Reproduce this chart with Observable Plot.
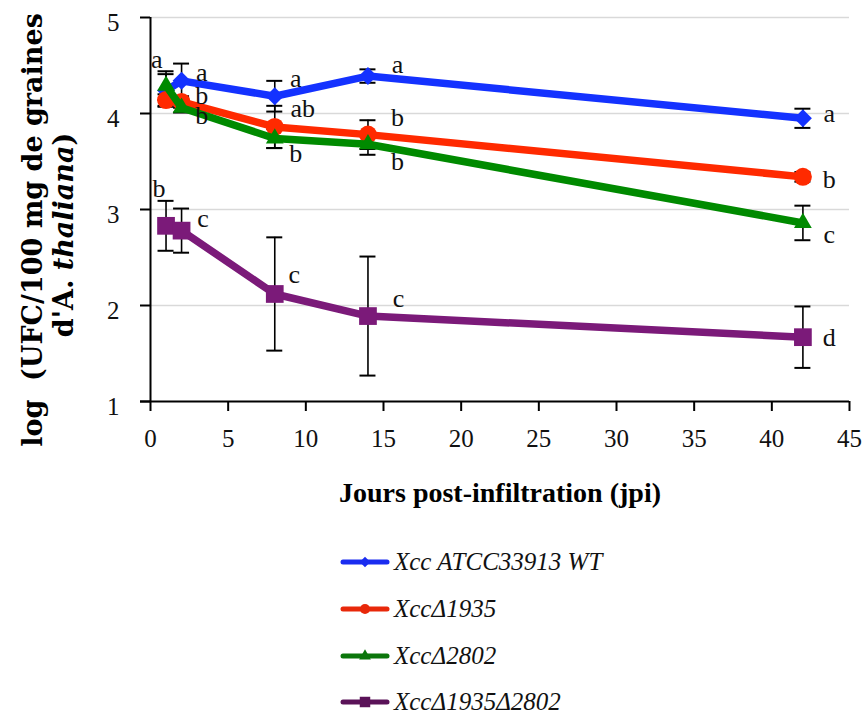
<!DOCTYPE html>
<html>
<head>
<meta charset="utf-8">
<script src="https://cdn.jsdelivr.net/npm/d3@7"></script>
<script src="https://cdn.jsdelivr.net/npm/@observablehq/plot@0.6"></script>
<style>
  html, body { margin: 0; padding: 0; background: #fff; }
  #wrap { position: relative; width: 867px; height: 718px; overflow: hidden; }
  #legend { position: absolute; left: 340px; top: 539px; font-family: "Liberation Serif", "Times New Roman", Tinos, "DejaVu Serif", serif; font-style: italic; font-size: 25px; color: #111; }
  .row { height: 46.7px; display: flex; align-items: center; }
  .row svg { display: block; margin-right: 4px; }
</style>
</head>
<body>
<div id="wrap"><div id="chart"></div><div id="legend"></div></div>
<script>
// ---- data ----
const days = [1, 2, 8, 14, 42];
const seriesNames = ["Xcc ATCC33913 WT", "XccΔ1935", "XccΔ2802", "XccΔ1935Δ2802"];
const wtMean    = [4.24, 4.34, 4.18, 4.39, 3.95];
const wtErr     = [0.17, 0.18, 0.16, 0.07, 0.10];
const d1935Mean = [4.14, 4.12, 3.86, 3.78, 3.34];
const d1935Err  = [0.06, 0.06, 0.22, 0.15, 0.05];
const d2802Mean = [4.29, 4.06, 3.74, 3.68, 2.86];
const d2802Err  = [0.15, 0.05, 0.10, 0.11, 0.18];
const dDoubleMean = [2.83, 2.78, 2.12, 1.89, 1.67];
const dDoubleErr  = [0.26, 0.23, 0.59, 0.62, 0.32];
const xTicks = [0, 5, 10, 15, 20, 25, 30, 35, 40, 45];
const yTicks = [1, 2, 3, 4, 5];
// significance letters (positions in data units)
const letterText = ["a","a","b","b","a","ab","b","a","b","b","a","b","c","d","b","c","c","c"];
const letterDay  = [0.4, 3.3, 3.3, 3.3, 9.35, 9.8, 9.35, 15.9, 15.9, 15.9, 43.7, 43.7, 43.7, 43.7, 0.55, 3.38, 9.25, 15.96];
const letterVal  = [4.56, 4.43, 4.185, 3.98, 4.36, 4.05, 3.58, 4.51, 3.96, 3.50, 3.995, 3.31, 2.735, 1.67, 3.215, 2.90, 2.32, 2.07];
const xTitle = "Jours post-infiltration (jpi)";

// ---- styling ----
const seriesColors = ["#1432ff", "#ff2a00", "#008a00", "#7b1a79"];
const legendColors = ["#1a2cf0", "#e8280a", "#0b760b", "#5a1258"];
const seriesSymbols = ["diamond2", "circle", "triangle", "square"];
const seriesR = [8.1, 9, 6.6, 10];

const means = [wtMean, d1935Mean, d2802Mean, dDoubleMean];
const errs = [wtErr, d1935Err, d2802Err, dDoubleErr];
const perSeries = seriesNames.map((name, i) => days.map((d, j) => ({series: name, day: d, value: means[i][j], err: errs[i][j]})));
const rows = perSeries.flat();
const letters = letterText.map((t, i) => ({text: t, day: letterDay[i], value: letterVal[i]}));

const serif = "'Liberation Serif', 'Times New Roman', Tinos, 'DejaVu Serif', serif";
const marks = [
  Plot.gridY([2, 3, 4, 5], {stroke: "#d9d9d9", strokeOpacity: 1, strokeWidth: 1.5}),
  Plot.ruleX(rows, {x: "day", y1: d => d.value - d.err, y2: d => d.value + d.err, stroke: "#000", strokeWidth: 1.6}),
  Plot.ruleY(rows, {y: d => d.value + d.err, x1: "day", x2: "day", insetLeft: -8, insetRight: -8, stroke: "#000", strokeWidth: 2}),
  Plot.ruleY(rows, {y: d => d.value - d.err, x1: "day", x2: "day", insetLeft: -8, insetRight: -8, stroke: "#000", strokeWidth: 2}),
];
perSeries.forEach((data, i) => {
  marks.push(Plot.line(data, {x: "day", y: "value", stroke: seriesColors[i], strokeWidth: 7.5, strokeLinejoin: "round", strokeLinecap: "round"}));
  marks.push(Plot.dot(data, {x: "day", y: "value", symbol: seriesSymbols[i], r: seriesR[i], fill: seriesColors[i], stroke: "none"}));
});
marks.push(
  Plot.ruleX([0], {stroke: "#000", strokeWidth: 2}),
  Plot.ruleY([1], {stroke: "#000", strokeWidth: 2, insetLeft: -10}),
  Plot.axisY({ticks: yTicks, tickSize: 10, fill: "none", strokeWidth: 2, label: null}),
  Plot.axisY({ticks: yTicks, tickFormat: "d", tickSize: 0, tickPadding: 31, stroke: "none", dy: 5, fontSize: 25, fontFamily: serif, fill: "#111", label: null}),
  Plot.axisX({ticks: xTicks, tickFormat: "d", tickSize: 10, tickPadding: 18, strokeWidth: 2, fontSize: 25, fontFamily: serif, fill: "#111", label: null}),
  Plot.text(letters, {x: "day", y: "value", text: "text", fontSize: 26, fontFamily: serif, fill: "#111"}),
  Plot.text([xTitle], {frameAnchor: "bottom", lineAnchor: "middle", dy: 92, fontSize: 28, fontWeight: "bold", fontFamily: serif, fill: "#000"})
);

const chart = Plot.plot({
  width: 867, height: 520,
  marginLeft: 150, marginRight: 18, marginTop: 17, marginBottom: 119,
  style: {fontFamily: serif, background: "white", overflow: "visible"},
  x: {domain: [0, 45]},
  y: {domain: [1, 5]},
  marks
});
document.getElementById("chart").appendChild(chart);

// y-axis title (two lines, mixed bold / italic)
const svg = d3.select(chart);
const yt = svg.append("g").attr("font-family", "'DejaVu Serif', serif").attr("font-weight", "bold").attr("font-size", 27).attr("fill", "#000").attr("text-anchor", "middle");
yt.append("text").attr("transform", "translate(33,230) rotate(-90)").attr("dy", "0.35em").style("white-space", "pre").text("log  (UFC/100 mg de graines");
const l2 = yt.append("text").attr("transform", "translate(64,235) rotate(-90)").attr("dy", "0.35em");
l2.append("tspan").text("d'A. ");
l2.append("tspan").attr("font-style", "italic").text("thaliana");
l2.append("tspan").text(")");

// legend
const legend = d3.select("#legend");
seriesNames.forEach((name, i) => {
  const row = legend.append("div").attr("class", "row");
  const s = row.append("svg").attr("width", 50).attr("height", 24);
  s.append("line").attr("x1", 3).attr("x2", 47).attr("y1", 12).attr("y2", 12).attr("stroke", legendColors[i]).attr("stroke-width", 5).attr("stroke-linecap", "round");
  const sym = {diamond2: d3.symbolDiamond2, circle: d3.symbolCircle, triangle: d3.symbolTriangle, square: d3.symbolSquare}[seriesSymbols[i]];
  s.append("path").attr("transform", "translate(25,12)").attr("d", d3.symbol(sym, [70, 80, 60, 110][i])()).attr("fill", legendColors[i]);
  row.append("span").text(name);
});
</script>
</body>
</html>
